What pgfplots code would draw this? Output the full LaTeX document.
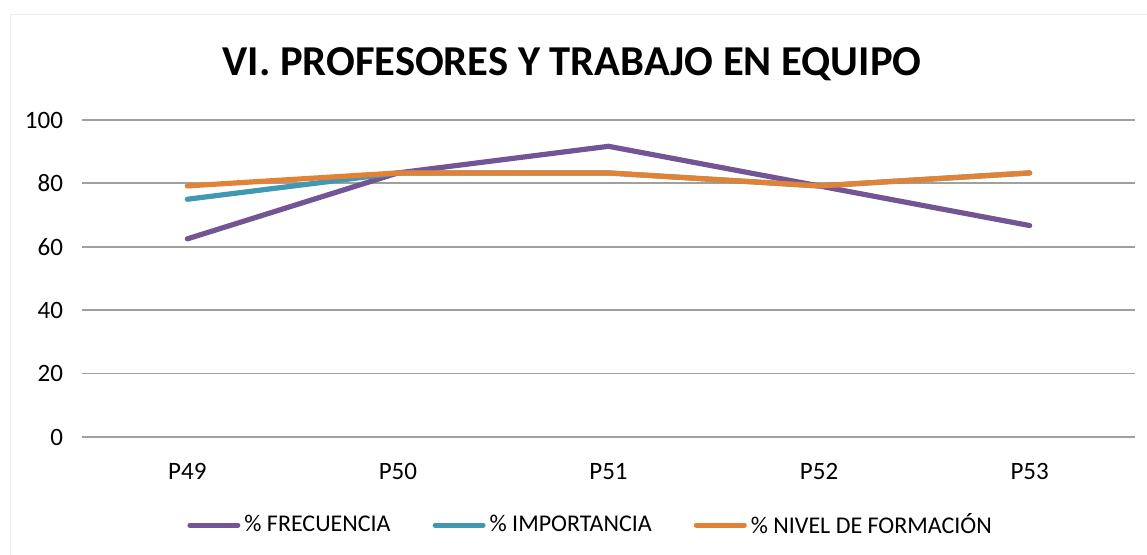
\documentclass[border=0pt]{standalone}
\usepackage{pgfplots}
\pgfplotsset{compat=1.18}
\usepackage{fontspec}
\setmainfont{Carlito}
\definecolor{cpurple}{RGB}{115,85,150}
\definecolor{cteal}{RGB}{65,152,178}
\definecolor{corange}{RGB}{225,130,55}
\definecolor{cgrid}{RGB}{160,160,160}
\begin{document}
\begin{tikzpicture}
\path[use as bounding box] (0,0) rectangle (573.5pt,277.5pt);
\draw[gray!15, line width=0.5pt] (5pt,0) -- (5pt,270pt) -- (573.5pt,270pt);
\node[font=\fontsize{21.3}{25}\selectfont\bfseries] at (286pt,245.5pt) {VI. PROFESORES Y TRABAJO EN EQUIPO};
\begin{axis}[
  at={(41pt,59pt)}, anchor=south west,
  scale only axis, width=526.5pt, height=158.5pt,
  xmin=-0.5, xmax=4.5, ymin=0, ymax=100,
  xtick={0,1,2,3,4}, xticklabels={P49,P50,P51,P52,P53},
  ytick={0,20,40,60,80,100},
  ymajorgrids, major grid style={cgrid, line width=0.9pt},
  axis line style={draw=none}, tick style={draw=none},
  ticklabel style={font=\fontsize{12.5}{15}\selectfont},
  /pgf/number format/assume math mode=true,
  yticklabel style={xshift=-6pt},
  xticklabel style={yshift=-9.5pt},
  legend columns=3,
  legend style={at={(0.484,-0.278)}, anchor=center, draw=none, font=\fontsize{12}{14}\selectfont,
    /tikz/every even column/.append style={column sep=19pt}},
  legend image code/.code={\draw[#1, line width=2.5pt, line cap=round] (0pt,0pt) -- (24pt,0pt);},
]
\addplot[cpurple, line width=2.6pt, line cap=round, line join=round] coordinates {(0,62.5) (1,83.3) (2,91.7) (3,79.2) (4,66.7)};
\addlegendentry{\% FRECUENCIA}
\addplot[cteal, line width=2.6pt, line cap=round, line join=round] coordinates {(0,75.0) (1,83.3) (2,83.3) (3,79.2) (4,83.3)};
\addlegendentry{\% IMPORTANCIA}
\addplot[corange, line width=2.6pt, line cap=round, line join=round] coordinates {(0,79.2) (1,83.3) (2,83.3) (3,79.2) (4,83.3)};
\addlegendentry{\% NIVEL DE FORMACIÓN}
\end{axis}
\end{tikzpicture}
\end{document}
